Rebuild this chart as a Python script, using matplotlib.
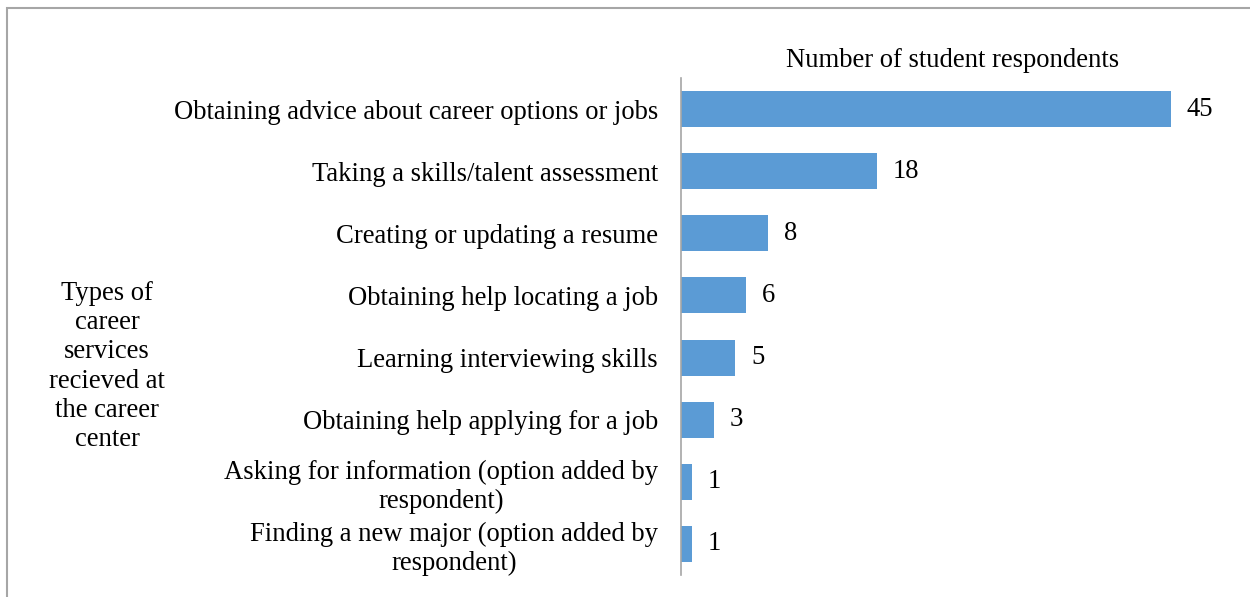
import matplotlib.pyplot as plt
from matplotlib.patches import Rectangle

plt.rcParams['font.family'] = ['Liberation Serif', 'DejaVu Serif']

services = [
    "Obtaining advice about career options or jobs",
    "Taking a skills/talent assessment",
    "Creating or updating a resume",
    "Obtaining help locating a job",
    "Learning interviewing skills",
    "Obtaining help applying for a job",
    "Asking for information (option added by\nrespondent)",
    "Finding a new major (option added by\nrespondent)",
]
respondents = [45, 18, 8, 6, 5, 3, 1, 1]

FS = 19.2

fig = plt.figure(figsize=(12.5, 5.97), dpi=100)
ax = fig.add_axes([0.5448, 0.0369, 0.4352, 0.8324])

ypos = list(range(len(services)))
bars = ax.barh(ypos, respondents, height=0.58, color='#5B9BD5')
ax.set_ylim(len(services) - 0.5, -0.5)
ax.set_xlim(0, 50)

ax.set_yticks(ypos)
ax.set_yticklabels(services, fontsize=FS, multialignment='center')
ax.tick_params(axis='y', length=0, pad=16.5)
ax.set_xticks([])

for s in ['top', 'right', 'bottom']:
    ax.spines[s].set_visible(False)
ax.spines['left'].set_color('#A6A6A6')
ax.spines['left'].set_linewidth(1.2)

for b, v in zip(bars, respondents):
    ax.text(v + 1.45, b.get_y() + b.get_height() / 2, str(v),
            va='center', ha='left', fontsize=FS)

ax.set_title("Number of student respondents", fontsize=FS, pad=8)

fig.text(0.0856, 0.386,
         "Types of\ncareer\nservices\nrecieved at\nthe career\ncenter",
         ha='center', va='center', fontsize=FS, linespacing=1.22)

# outer frame (only top and left edges fall inside the image)
fig.add_artist(Rectangle((7 / 1250, -0.2), 1.2, 1.2 - 8 / 597,
                         transform=fig.transFigure, fill=False,
                         edgecolor='#A6A6A6', linewidth=1.5))

fig.savefig('out.png', dpi=100)
